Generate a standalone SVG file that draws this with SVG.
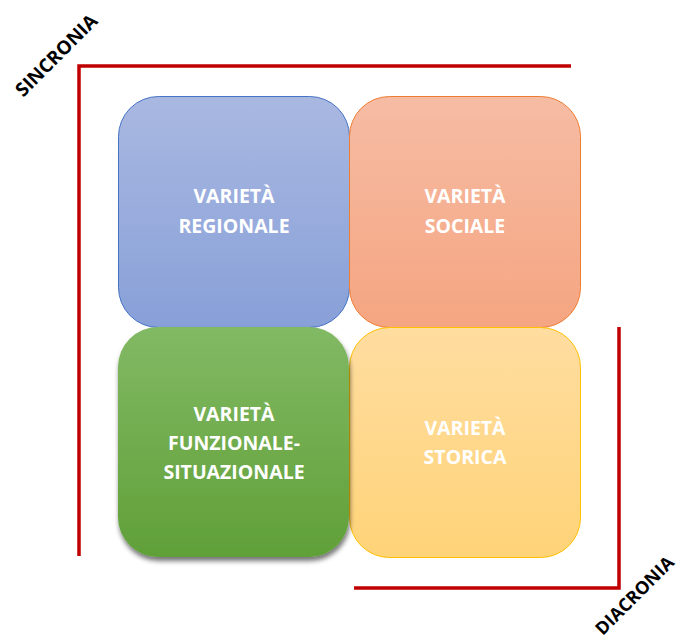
<svg xmlns="http://www.w3.org/2000/svg" width="686" height="644" viewBox="0 0 686 644">
<style>
.lbl{font-family:"Open Sans","Liberation Sans",sans-serif;font-weight:bold;font-size:19.5px;fill:#fff;text-anchor:middle}
.axis{font-family:"Open Sans","Liberation Sans",sans-serif;font-weight:bold;font-size:19px;fill:#000;text-anchor:middle}
.red{fill:none;stroke:#C00000;stroke-width:3.5}
</style>
<defs>
<linearGradient id="gb" x1="0" y1="0" x2="0" y2="1"><stop offset="0" stop-color="#A9B8E1"/><stop offset="1" stop-color="#88A0D8"/></linearGradient>
<linearGradient id="go" x1="0" y1="0" x2="0" y2="1"><stop offset="0" stop-color="#F6BCA4"/><stop offset="1" stop-color="#F5A581"/></linearGradient>
<linearGradient id="gg" x1="0" y1="0" x2="0" y2="1"><stop offset="0" stop-color="#82B964"/><stop offset="1" stop-color="#60A038"/></linearGradient>
<linearGradient id="gy" x1="0" y1="0" x2="0" y2="1"><stop offset="0" stop-color="#FFDDA0"/><stop offset="1" stop-color="#FFD378"/></linearGradient>
<filter id="sh" x="-10%" y="-10%" width="125%" height="125%"><feGaussianBlur in="SourceAlpha" stdDeviation="2.5"/><feOffset dx="1" dy="4"/><feComponentTransfer><feFuncA type="linear" slope="0.55"/></feComponentTransfer><feMerge><feMergeNode/><feMergeNode in="SourceGraphic"/></feMerge></filter>
</defs>
<g id="connectors">
<polyline class="red" points="79,556 79,66 571,66"/>
<polyline class="red" points="619,327 619,588 354,588"/>
</g>
<g id="sincronia"><text class="axis" transform="translate(61,60) rotate(-45)">SINCRONIA</text></g>
<g id="diacronia"><text class="axis" style="font-size:18px" transform="translate(639,600) rotate(-45)">DIACRONIA</text></g>
<g id="regionale">
<rect x="118.5" y="96.5" width="231" height="231" rx="40" fill="url(#gb)" stroke="#4472C4" stroke-width="1"/>
<text class="lbl" x="234" y="203">VARIETÀ</text>
<text class="lbl" x="234" y="233">REGIONALE</text>
</g>
<g id="sociale">
<rect x="349.5" y="96.5" width="231" height="231" rx="40" fill="url(#go)" stroke="#ED7D31" stroke-width="1"/>
<text class="lbl" x="465" y="203">VARIETÀ</text>
<text class="lbl" x="465" y="233">SOCIALE</text>
</g>
<g id="storica">
<rect x="349.5" y="327.5" width="231" height="230" rx="40" fill="url(#gy)" stroke="#FFC000" stroke-width="1"/>
<text class="lbl" x="465" y="435">VARIETÀ</text>
<text class="lbl" x="465" y="464">STORICA</text>
</g>
<g id="funzionale">
<rect x="118" y="327" width="231" height="230" rx="40" fill="url(#gg)" filter="url(#sh)"/>
<text class="lbl" x="234" y="421">VARIETÀ</text>
<text class="lbl" x="234" y="450">FUNZIONALE-</text>
<text class="lbl" x="234" y="479">SITUAZIONALE</text>
</g>
</svg>
